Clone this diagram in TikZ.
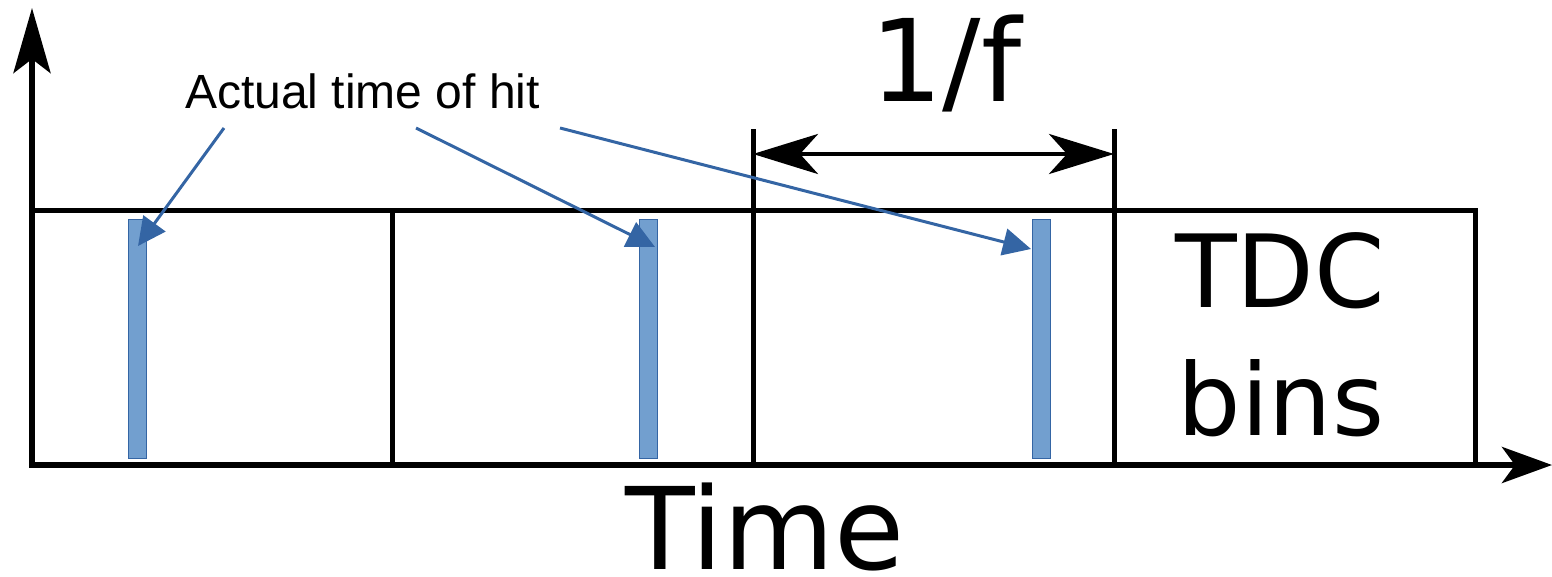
\documentclass[tikz,border=0pt]{standalone}
\usepackage{fontspec}
\setmainfont{DejaVu Sans}
\newfontfamily\arialfont{Liberation Sans}
\usetikzlibrary{arrows.meta}
\definecolor{barfill}{RGB}{114,159,207}
\definecolor{bluedark}{RGB}{52,101,164}
\tikzset{
  axisline/.style={line width=6pt, line cap=butt},
  boxline/.style={line width=5pt, line cap=rect},
  dimline/.style={line width=4.5pt, {Stealth[length=65pt,width=40pt,inset=18pt]}-{Stealth[length=65pt,width=40pt,inset=18pt]}},
  hitbar/.style={draw=bluedark, fill=barfill, line width=1pt, minimum width=18pt, minimum height=239pt, inner sep=0pt, anchor=north west},
  pointer/.style={draw=bluedark, line width=3pt, -{Triangle[length=28pt,width=27pt]}},
  bigtext/.style={inner sep=0pt, anchor=base, font=\fontsize{112}{120}\selectfont},
}
\begin{document}
\begin{tikzpicture}[x=1pt,y=-1pt]
\useasboundingbox (0,0) rectangle (1552,577);
% coordinates
\coordinate (o) at (32,465);
\coordinate (ytip) at (32,8);
\coordinate (xtip) at (1552,465);
\coordinate (tl) at (32,211);
\coordinate (tr) at (1475,211);
\coordinate (br) at (1475,465);
\coordinate (d1t) at (392,211); \coordinate (d1b) at (392,465);
\coordinate (d2t) at (753,132); \coordinate (d2b) at (753,465);
\coordinate (d3t) at (1114,132); \coordinate (d3b) at (1114,465);
\coordinate (dl) at (753,154); \coordinate (dr) at (1114,154);
% box
\draw[boxline] (tl) -- (tr) -- (br);
\draw[boxline] (d1t) -- (d1b);
\draw[boxline] (d2t) -- (d2b);
\draw[boxline] (d3t) -- (d3b);
% axes
\draw[axisline, -{Stealth[length=65pt,width=37pt,inset=14pt]}] ([yshift=3pt]o) -- (ytip);
\draw[axisline, -{Stealth[length=50pt,width=36pt,inset=13pt]}] ([xshift=-3pt]o) -- (xtip);
% dimension arrow
\draw[dimline] (dl) -- (dr);
% bars
\node[hitbar] (bar1) at (128,219) {};
\node[hitbar] (bar2) at (639,219) {};
\node[hitbar] (bar3) at (1032,219) {};
% labels
\node[inner sep=0pt, anchor=base west, font=\arialfont\fontsize{48}{50}\selectfont] (hit) at (185,109) {Actual time of hit};
\node[bigtext, font=\fontsize{114}{120}\selectfont] (freq) at (946,102) {1/f};
\node[bigtext, font=\fontsize{101}{120}\selectfont] (tdc) at (1280,307) {TDC};
\node[bigtext, font=\fontsize{100}{120}\selectfont] (bins) at (1281,435) {bins};
\node[bigtext, font=\fontsize{114}{120}\selectfont] (time) at (765,569) {Time};
% pointers
\coordinate (s1) at (224,128); \coordinate (e1) at (138,246);
\coordinate (s2) at (416,128); \coordinate (e2) at (655,247);
\coordinate (s3) at (560,128); \coordinate (e3) at (1031,249);
\draw[pointer] (s1) -- (e1);
\draw[pointer] (s2) -- (e2);
\draw[pointer] (s3) -- (e3);
\end{tikzpicture}
\end{document}
